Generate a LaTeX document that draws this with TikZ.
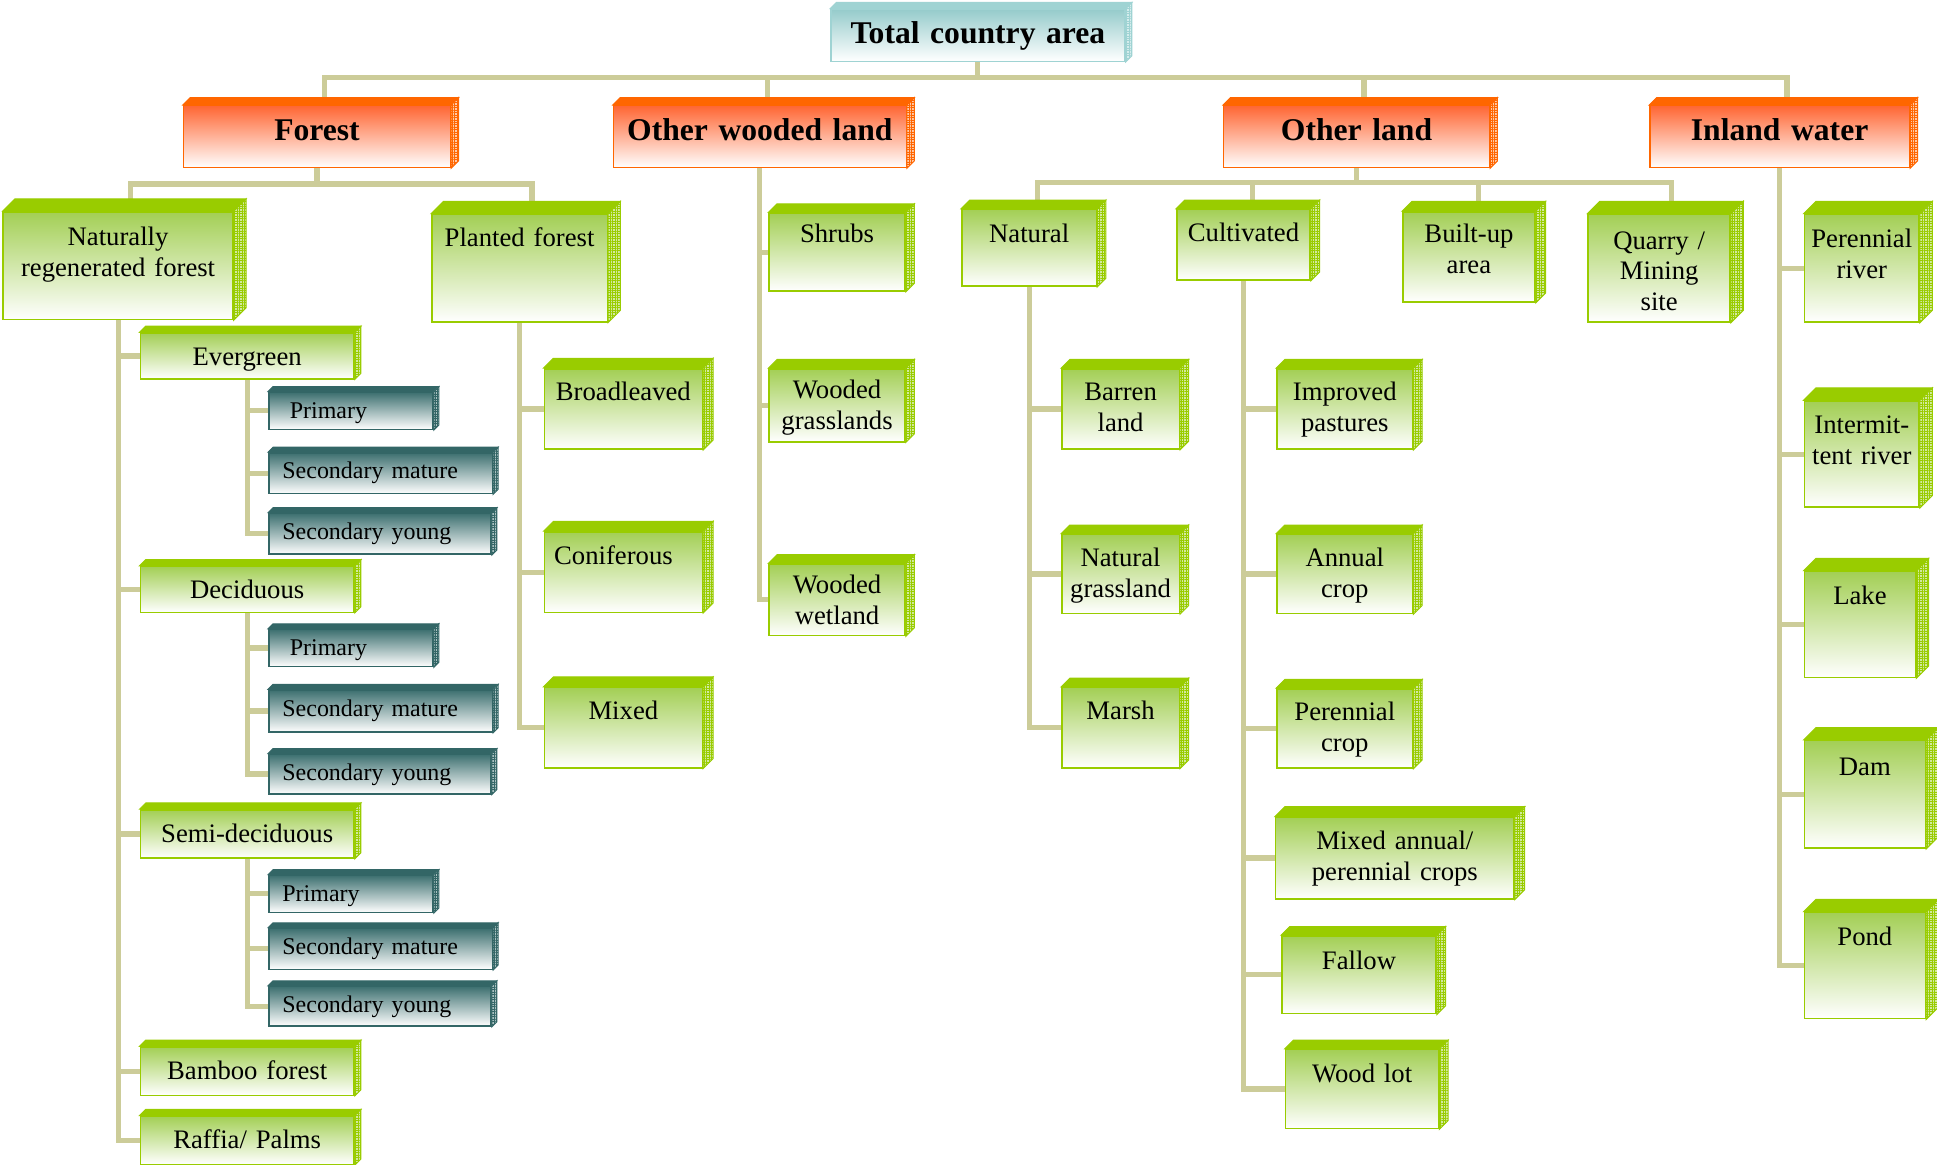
\documentclass[tikz,border=0pt]{standalone}
\usepackage{fontspec}
\setmainfont{Liberation Serif}
\usetikzlibrary{backgrounds,patterns.meta}

\definecolor{grnline}{HTML}{99CC00}
\definecolor{grntop}{HTML}{A3CF55}
\definecolor{grnside}{HTML}{D2E9A0}
\definecolor{orgline}{HTML}{FF6600}
\definecolor{orgtop}{HTML}{FF6633}
\definecolor{orgside}{HTML}{FFC9A6}
\definecolor{tealline}{HTML}{336666}
\definecolor{tealtop}{HTML}{3D7070}
\definecolor{tealside}{HTML}{A9C0C0}
\definecolor{rootline}{HTML}{9FD3D3}
\definecolor{roottop}{HTML}{96CBCB}
\definecolor{rootside}{HTML}{D4ECEC}
\definecolor{linkcol}{HTML}{CCCC99}

\tikzset{
  % width, height, first baseline, side padding (in picture units)
  sz/.code n args={4}{%
    \pgfmathsetlengthmacro\bxw{(#1-2*#4)*0.5pt}%
    \pgfmathsetlengthmacro\bxs{#4*0.5pt}%
    \pgfmathsetlengthmacro\bxh{#3*0.5pt}%
    \pgfmathsetlengthmacro\bxd{(#2-#3)*0.5pt}%
    \edef\bxtmp{\noexpand\tikzset{text width=\bxw, inner xsep=\bxs, text height=\bxh, text depth=\bxd}}%
    \bxtmp},
  box/.style={anchor=north west, inner sep=0pt, line width=0.6pt, align=center},
  rootbox/.style={box, draw=rootline, top color=roottop, bottom color=white, font=\fontsize{12.8}{15}\selectfont\bfseries},
  cat/.style={box, draw=orgline, top color=orgtop, bottom color=white, font=\fontsize{12.8}{15}\selectfont\bfseries},
  grn/.style={box, draw=grnline, top color=grntop, bottom color=white, font=\fontsize{10.8}{12.5}\selectfont},
  leaf/.style={box, align=left, draw=tealline, top color=tealtop, bottom color=white, font=\fontsize{9.7}{11}\selectfont},
  topface/.style={fill=#1, draw=#1, line width=0.4pt},
  sideface/.style 2 args={preaction={fill=#2}, pattern={Hatch[angle=0, distance=1pt, line width=0.25pt]}, pattern color=#1, draw=#1, line width=0.4pt},
  link/.style={draw=linkcol, line width=2.1pt},
}

\begin{document}
\begin{tikzpicture}[x=0.5pt, y=-0.5pt, line join=miter]
  \useasboundingbox (0,0) rectangle (1568,943);

  % Top levels
  \node[rootbox, sz={238}{42}{28}{0}] (root) at (672,7) {Total country area};
  \node[cat, sz={216}{50}{28}{0}] (forest) at (148,85) {Forest};
  \node[cat, sz={237}{50}{28}{0}] (owl) at (496,85) {Other wooded land};
  \node[cat, sz={215}{50}{28}{0}] (oland) at (990,85) {Other land};
  \node[cat, sz={210}{50}{28}{0}] (inland) at (1335,85) {Inland water};

  % Forest
  \node[grn, sz={186}{87}{27}{0}] (nrf) at (2,171) {Naturally\\regenerated forest};
  \node[grn, sz={142}{87}{26}{0}] (planted) at (349,173) {Planted forest};
  \node[grn, sz={173}{37}{26}{0}] (evg) at (113,269) {Evergreen};
  \node[grn, sz={173}{37}{26}{0}] (dec) at (113,458) {Deciduous};
  \node[grn, sz={173}{39}{26}{0}] (semi) at (113,655) {Semi-deciduous};
  \node[grn, sz={173}{39}{26}{0}] (bamboo) at (113,847) {Bamboo forest};
  \node[grn, sz={173}{39}{26}{0}] (raffia) at (113,903) {Raffia/ Palms};

  \node[leaf, sz={133}{30}{21}{11}] (p1) at (217,317) {\hspace*{3pt}Primary};
  \node[leaf, sz={181}{33}{21}{11}] (sm1) at (217,366) {Secondary mature};
  \node[leaf, sz={180}{33}{21}{11}] (sy1) at (217,415) {Secondary young};
  \node[leaf, sz={133}{30}{21}{11}] (p2) at (217,509) {\hspace*{3pt}Primary};
  \node[leaf, sz={181}{34}{21}{11}] (sm2) at (217,558) {Secondary mature};
  \node[leaf, sz={180}{32}{21}{11}] (sy2) at (217,610) {Secondary young};
  \node[leaf, sz={133}{30}{21}{11}] (p3) at (217,708) {Primary};
  \node[leaf, sz={181}{33}{21}{11}] (sm3) at (217,751) {Secondary mature};
  \node[leaf, sz={180}{32}{21}{11}] (sy3) at (217,798) {Secondary young};

  \node[grn, sz={128}{65}{26}{0}] (broad) at (440,298) {Broadleaved};
  \node[grn, align=left, sz={128}{65}{26}{8}] (conif) at (440,430) {Coniferous};
  \node[grn, sz={128}{65}{26}{0}] (mixedf) at (440,556) {Mixed};

  % Other wooded land
  \node[grn, sz={110}{63}{24}{0}] (shrubs) at (622,172) {Shrubs};
  \node[grn, sz={110}{59}{24}{0}] (wgrass) at (622,298) {Wooded\\grasslands};
  \node[grn, sz={110}{58}{24}{0}] (wwet) at (622,456) {Wooded\\wetland};

  % Other land
  \node[grn, sz={109}{62}{27}{0}] (natural) at (778,169) {Natural};
  \node[grn, sz={108}{57}{26}{0}] (cult) at (952,169) {Cultivated};
  \node[grn, sz={107}{73}{25}{0}] (built) at (1135,171) {Built-up\\area};
  \node[grn, sz={115}{87}{28}{0}] (quarry) at (1285,173) {Quarry /\\Mining\\site};

  \node[grn, sz={95}{65}{26}{0}] (barren) at (859,298) {Barren\\land};
  \node[grn, sz={95}{64}{26}{0}] (ngrass) at (859,432) {Natural\\grassland};
  \node[grn, sz={95}{65}{26}{0}] (marsh) at (859,556) {Marsh};

  \node[grn, sz={110}{65}{26}{0}] (impr) at (1033,298) {Improved\\pastures};
  \node[grn, sz={110}{64}{26}{0}] (annual) at (1033,432) {Annual\\crop};
  \node[grn, sz={110}{64}{26}{0}] (perc) at (1033,557) {Perennial\\crop};
  \node[grn, sz={193}{66}{26}{0}] (mixc) at (1032,661) {Mixed annual/\\perennial crops};
  \node[grn, sz={125}{63}{27}{0}] (fallow) at (1037,757) {Fallow};
  \node[grn, sz={124}{64}{27}{0}] (wood) at (1040,849) {Wood lot};

  % Inland water
  \node[grn, sz={93}{87}{27}{0}] (perriv) at (1460,173) {Perennial\\river};
  \node[grn, sz={93}{86}{26}{0}] (intriv) at (1460,324) {Intermit-\\tent river};
  \node[grn, sz={90}{86}{27}{0}] (lake) at (1460,462) {Lake};
  \node[grn, sz={98}{87}{28}{0}] (dam) at (1460,599) {Dam};
  \node[grn, sz={98}{86}{27}{0}] (pond) at (1460,738) {Pond};

  % Bevels (top and right faces)
  \foreach \lc/\sc/\boxes in {
      grnline/grnside/{nrf/10, planted/10, evg/5, dec/5, semi/5, bamboo/5, raffia/5, broad/8, conif/8, mixedf/8, shrubs/7, wgrass/7, wwet/7, natural/7, cult/7, built/8, quarry/10, barren/7, ngrass/7, marsh/7, impr/7, annual/7, perc/7, mixc/8, fallow/7, wood/7, perriv/10, intriv/10, lake/10, dam/10, pond/10},
      orgline/orgside/{forest/6, owl/6, oland/6, inland/6},
      tealline/tealside/{p1/4, sm1/4, sy1/4, p2/4, sm2/4, sy2/4, p3/4, sm3/4, sy3/4},
      rootline/rootside/{root/5}}
    \foreach \bx/\dep in \boxes {
      \path[topface=\lc] (\bx.north west) -- ++(\dep,-\dep) -- ([shift={(\dep,-\dep)}]\bx.north east) -- (\bx.north east) -- cycle;
      \path[sideface={\lc}{\sc}] (\bx.north east) -- ++(\dep,-\dep) -- ([shift={(\dep,-\dep)}]\bx.south east) -- (\bx.south east) -- cycle;
    }

  % Connectors
  \begin{pgfonlayer}{background}
    \coordinate (bus) at (root.south |- 0,63);
    \foreach \dst in {forest, owl, oland, inland}
      \draw[link] (root.south) -- (bus) -| ([xshift=3pt]\dst.north);
    \coordinate (fbus) at (forest.south |- 0,149);
    \foreach \dst in {nrf, planted}
      \draw[link] (forest.south) -- (fbus) -| ([xshift=5pt]\dst.north);
    \coordinate (obus) at (oland.south |- 0,148);
    \foreach \dst/\s in {natural/3.5pt, cult/3.5pt, built/4pt, quarry/5pt}
      \draw[link] (oland.south) -- (obus) -| ([xshift=\s]\dst.north);
    \foreach \src/\kids in {nrf/{evg,dec,semi,bamboo,raffia}, evg/{p1,sm1,sy1}, dec/{p2,sm2,sy2}, semi/{p3,sm3,sy3}, planted/{broad,conif,mixedf}, owl/{shrubs,wgrass,wwet}, natural/{barren,ngrass,marsh}, cult/{impr,annual,perc,mixc,fallow,wood}, inland/{perriv,intriv,lake,dam,pond}}
      \foreach \dst in \kids
        \draw[link] (\src.south) |- (\dst.west);
  \end{pgfonlayer}

\end{tikzpicture}
\end{document}
